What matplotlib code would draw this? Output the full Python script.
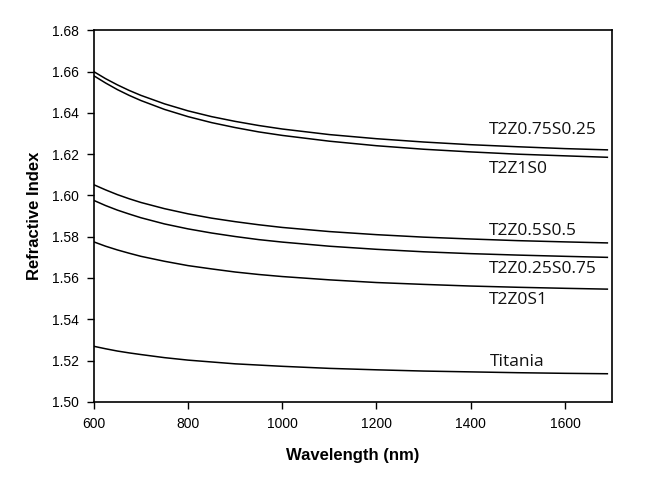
import matplotlib
matplotlib.use("Agg")
import matplotlib.pyplot as plt

# Wavelength sample points (nm)
wl = [600, 625, 650, 675, 700, 750, 800, 850, 900, 950, 1000,
      1100, 1200, 1300, 1400, 1500, 1600, 1690]

t2z075s025 = [1.6600, 1.6566, 1.6536, 1.6509, 1.6485, 1.6444, 1.6410, 1.6382, 1.6359,
              1.6339, 1.6322, 1.6295, 1.6275, 1.6259, 1.6246, 1.6236, 1.6227, 1.6221]
t2z1s0     = [1.6580, 1.6545, 1.6513, 1.6485, 1.6460, 1.6417, 1.6382, 1.6353, 1.6329,
              1.6308, 1.6291, 1.6263, 1.6241, 1.6224, 1.6211, 1.6200, 1.6192, 1.6185]
t2z05s05   = [1.6052, 1.6027, 1.6004, 1.5984, 1.5966, 1.5936, 1.5911, 1.5890, 1.5873,
              1.5858, 1.5845, 1.5825, 1.5810, 1.5798, 1.5789, 1.5781, 1.5775, 1.5770]
t2z025s075 = [1.5976, 1.5951, 1.5929, 1.5910, 1.5892, 1.5862, 1.5838, 1.5818, 1.5801,
              1.5786, 1.5774, 1.5754, 1.5739, 1.5727, 1.5718, 1.5711, 1.5705, 1.5700]
t2z0s1     = [1.5775, 1.5754, 1.5736, 1.5720, 1.5705, 1.5681, 1.5660, 1.5644, 1.5629,
              1.5617, 1.5607, 1.5591, 1.5578, 1.5569, 1.5561, 1.5555, 1.5550, 1.5546]
titania    = [1.5269, 1.5257, 1.5246, 1.5237, 1.5229, 1.5214, 1.5202, 1.5193, 1.5184,
              1.5178, 1.5172, 1.5162, 1.5155, 1.5149, 1.5145, 1.5141, 1.5138, 1.5136]

series = [t2z075s025, t2z1s0, t2z05s05, t2z025s075, t2z0s1, titania]
labels = ["T2Z0.75S0.25", "T2Z1S0", "T2Z0.5S0.5", "T2Z0.25S0.75", "T2Z0S1", "Titania"]
label_x = [1438, 1438, 1438, 1438, 1438, 1440]
label_y = [1.6318, 1.6129, 1.5829, 1.5645, 1.5495, 1.5195]

x_ticks = [600, 800, 1000, 1200, 1400, 1600]
y_ticks = [1.50, 1.52, 1.54, 1.56, 1.58, 1.60, 1.62, 1.64, 1.66, 1.68]

fig = plt.figure(figsize=(6.47, 4.90), dpi=100)
ax = fig.add_axes([0.145, 0.180, 0.801, 0.758])

for s in series:
    ax.plot(wl, s, color="black", linewidth=1.1)

for lab, lx, ly in zip(labels, label_x, label_y):
    ax.text(lx, ly, lab, fontsize=12.5, family="Open Sans", va="center", ha="left",
            color="#111111")

ax.set_xlim(600, 1700)
ax.set_ylim(1.50, 1.68)
ax.set_xticks(x_ticks)
ax.set_xticklabels([str(v) for v in x_ticks])
ax.set_yticks(y_ticks)
ax.set_yticklabels([f"{v:.2f}" for v in y_ticks])
ax.tick_params(direction="out", length=5, width=1, labelsize=10, pad=6,
               top=False, right=False)
for lbl in ax.get_xticklabels() + ax.get_yticklabels():
    lbl.set_family("Liberation Sans")

for sp in ax.spines.values():
    sp.set_linewidth(1.2)

ax.set_xlabel("Wavelength (nm)", fontsize=12, fontweight="bold",
              family="Liberation Sans", labelpad=12)
ax.set_ylabel("Refractive Index", fontsize=12, fontweight="bold",
              family="Liberation Sans", labelpad=7)

fig.savefig("out.png", dpi=100)
